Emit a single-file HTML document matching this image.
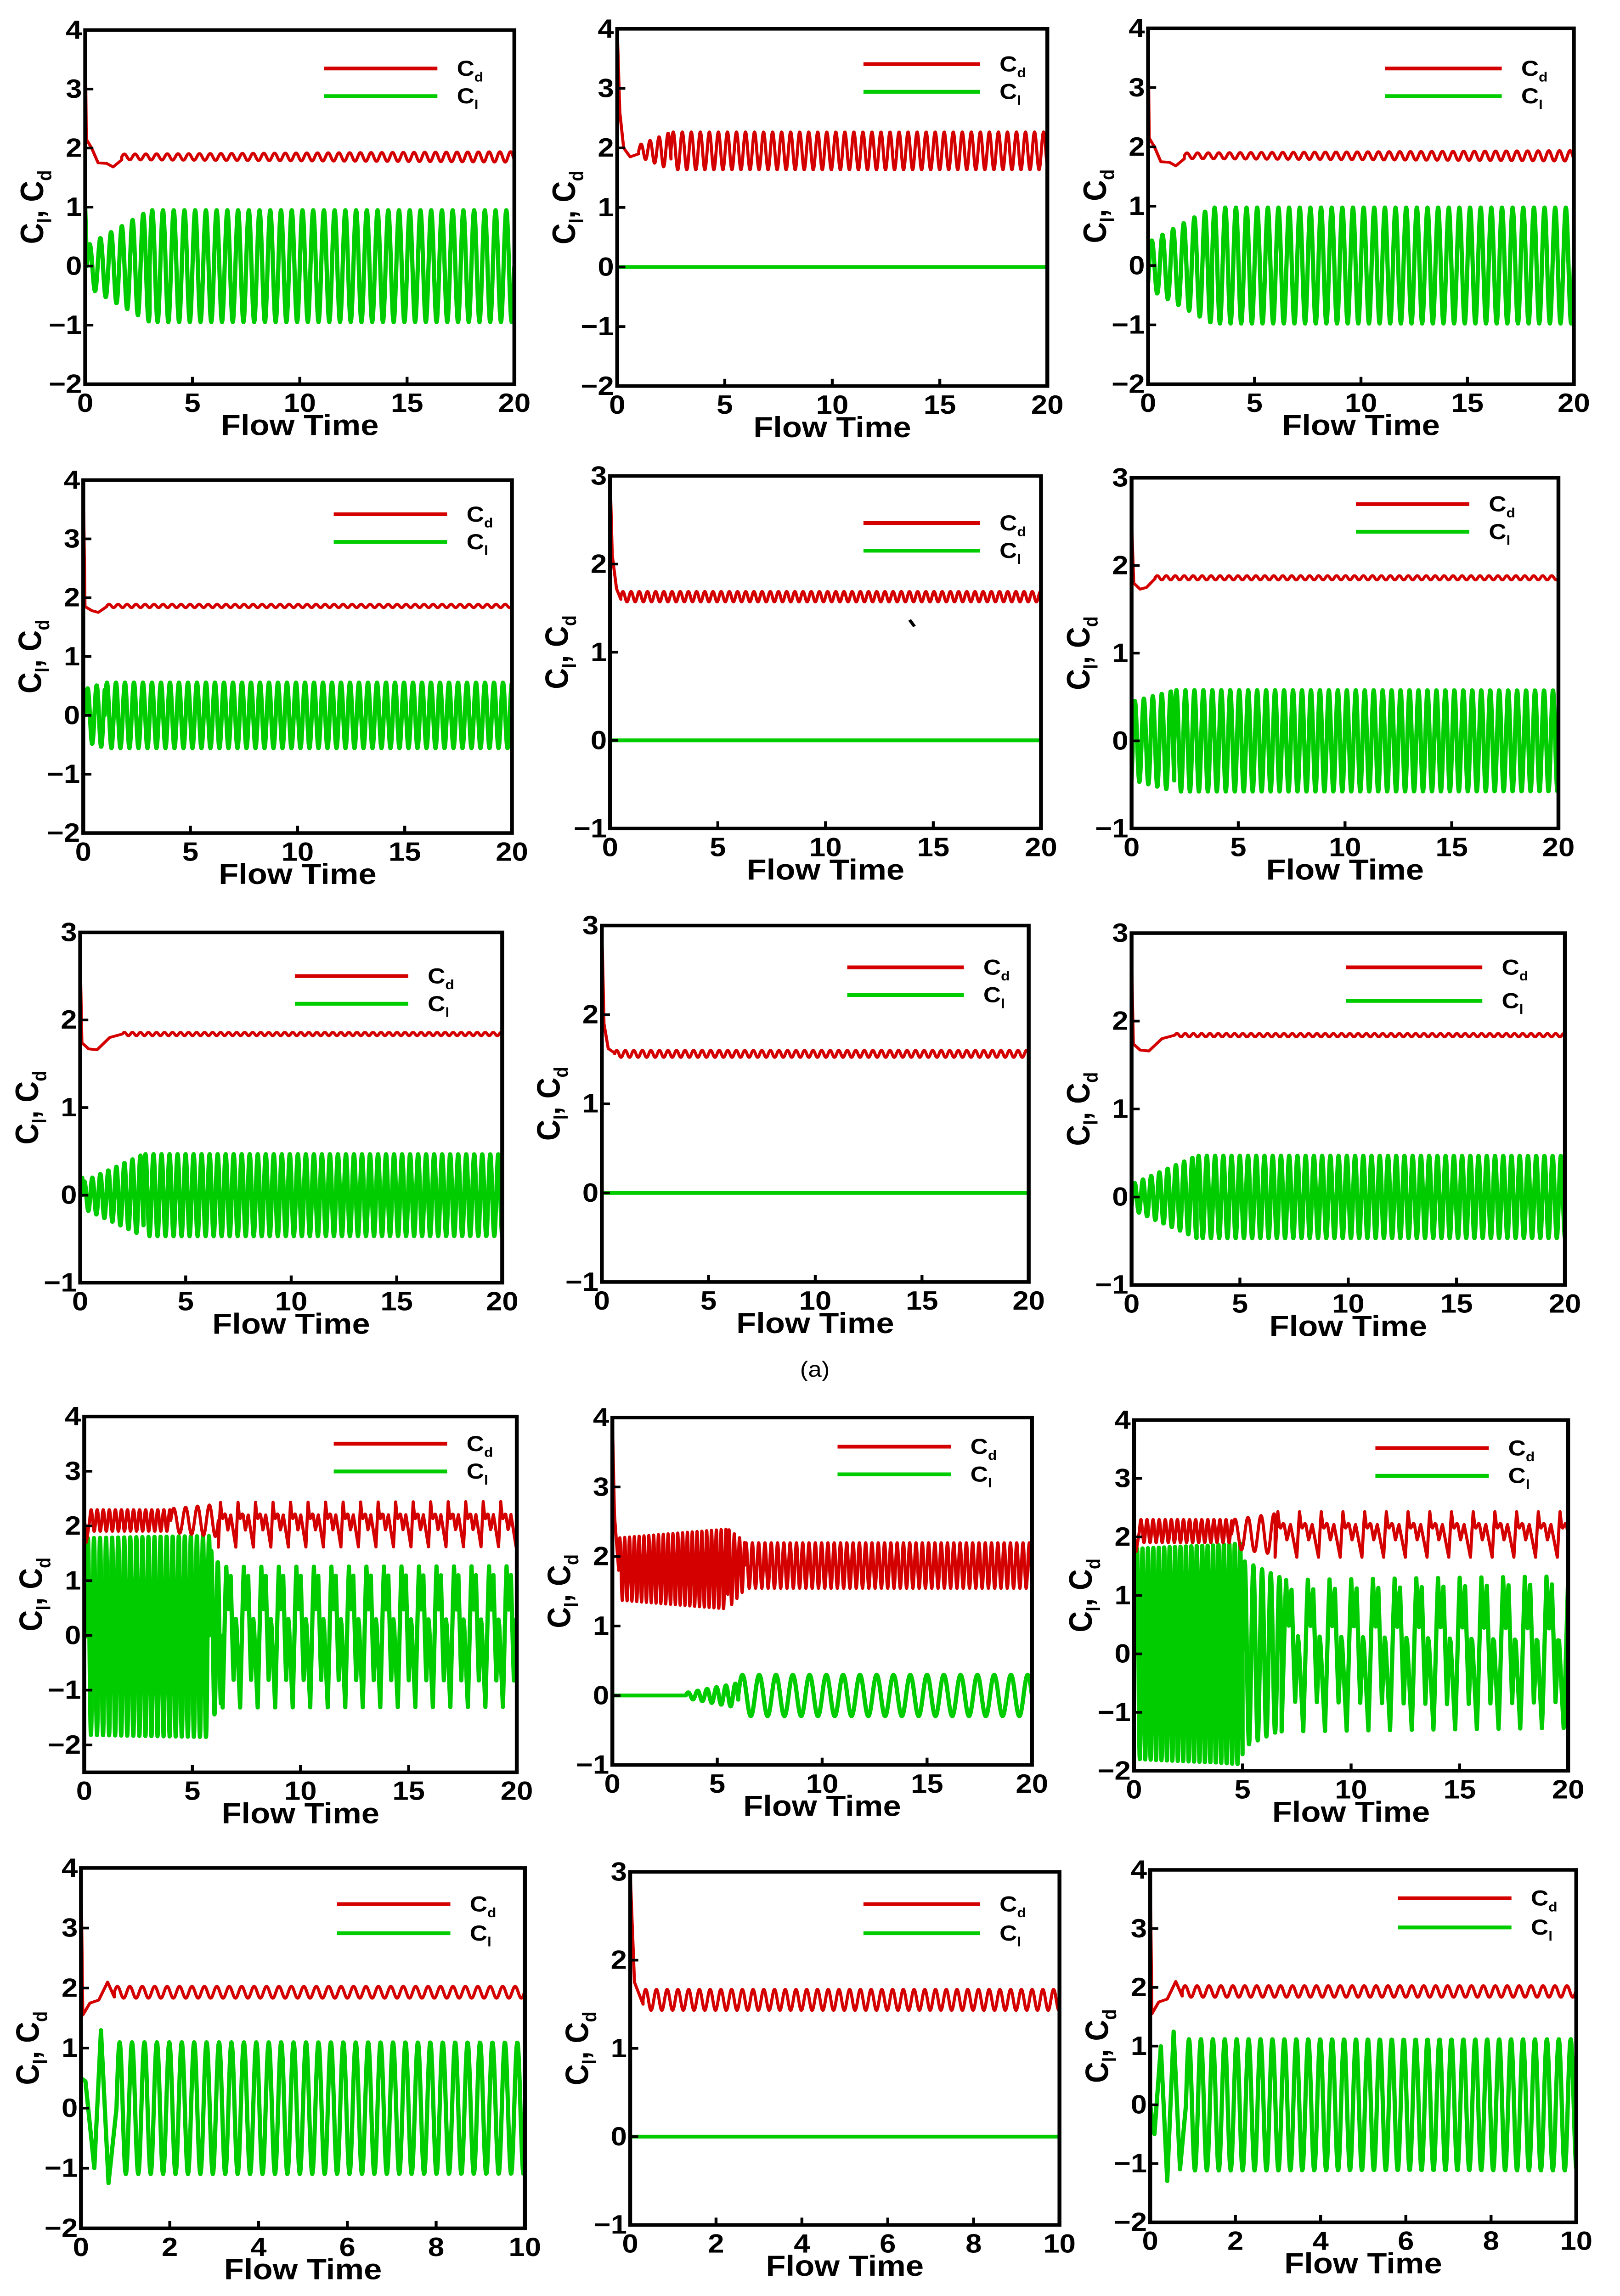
<!DOCTYPE html>
<html><head><meta charset="utf-8">
<meta name="viewport" content="width=3527, initial-scale=1">
<style>
html,body{margin:0;padding:0;background:#fff;overflow:hidden;width:100vw;height:100vh;}
svg{display:block;position:fixed;left:0;top:0;width:100vw;height:100vh;}
text{font-family:"Liberation Sans",Arial,sans-serif;}
</style></head>
<body>
<svg id="fig" viewBox="0 0 1000 1576" preserveAspectRatio="none" xmlns="http://www.w3.org/2000/svg">
<rect x="0" y="0" width="1000" height="1576" fill="#fff"/>
<text x="503" y="945" font-size="15" text-anchor="middle" font-family="Liberation Serif, serif">(a)</text>
<path d="M561.5,425.5 L564.5,430" stroke="#000" stroke-width="2" fill="none"/>
</svg>
<script>
// ---- axis ranges (data) ----
const xMaxVals = [20,20,20, 20,20,20, 20,20,20, 20,20,20, 10,10,10];
const yMinVals = [-2,-2,-2, -2,-1,-1, -1,-1,-1, -2.5,-1,-2, -2,-1,-2];
const yMaxVals = [4,4,4, 4,3,3, 3,3,3, 4,4,4, 4,3,4];

// ---- layout (pixel frame positions, not data) ----
const frameL = [52.6,381,708.7, 51.4,376.6,698.5, 49.5,371.5,698.5, 52,378,700, 50,389,710];
const frameR = [317.5,646.5,971.5, 316,642.6,962, 310,635,966, 319,637,968, 324,654,973];
const frameT = [20.6,19.8,19.4, 329.5,326.7,328, 640,635.3,640.5, 972.3,973,974.7, 1282.2,1284.9,1283.5];
const frameB = [263.7,265,263.7, 571.8,568.7,568.7, 880.5,880,882, 1216.5,1211.5,1215.5, 1529.5,1527.2,1525.4];
const legX1 = [200,533,855, 206,533,837, 182,523,831, 206,517,849, 208,533,863];
const legX2 = [270,605,927, 276,605,907, 252,595,915, 276,587,919, 278,605,933];
const legYd = [47,44,47, 353,359,346, 670,664,664, 991,993,994, 1307,1307,1303];
const legYl = [66,63,66, 372,378,365, 689,683,687, 1010,1012,1013, 1327,1327,1323];

// ---- series data: lead-in transient points [t, value] ----
const cdLead = [
 [[0,4],[0.05,2.15],[0.3,2.0],[0.6,1.75],[1.0,1.74],[1.3,1.68],[1.7,1.8]],
 [[0,4],[0.12,2.6],[0.3,2.0],[0.6,1.85],[1.0,1.9]],
 [[0,4],[0.05,2.15],[0.3,2.0],[0.6,1.75],[1.0,1.74],[1.3,1.68],[1.7,1.8]],
 [[0,4],[0.08,1.85],[0.4,1.78],[0.7,1.75],[1.1,1.85]],
 [[0,3],[0.1,2.1],[0.3,1.72],[0.5,1.6]],
 [[0,2.5],[0.1,1.8],[0.4,1.73],[0.7,1.75],[1.1,1.85]],
 [[0,2.7],[0.08,1.74],[0.4,1.67],[0.8,1.66],[1.4,1.8],[2.0,1.84]],
 [[0,3],[0.1,1.9],[0.3,1.62],[0.6,1.57]],
 [[0,2.7],[0.08,1.74],[0.4,1.67],[0.8,1.66],[1.4,1.8],[2.0,1.84]],
 [[0,2.2],[0.1,1.7],[0.25,2.1]],
 [[0,4],[0.1,2.6],[0.3,1.8]],
 [[0,2.1],[0.1,1.75],[0.25,2.1]],
 [[0,4],[0.04,1.55],[0.2,1.75],[0.4,1.8],[0.6,2.1],[0.75,1.85]],
 [[0,3],[0.1,1.75],[0.3,1.5]],
 [[0,4],[0.04,1.55],[0.2,1.75],[0.4,1.8],[0.6,2.1],[0.75,1.85]]
];
const clLead = [
 [[0,1.0],[0.08,0]],
 [[0,0]],
 [[0,-0.3],[0.05,0]],
 [[0,0.45],[0.1,0.3]],
 [[0,0]],
 [[0,-0.45],[0.05,-0.1]],
 [[0,0.2],[0.1,0.2]],
 [[0,0]],
 [[0,-0.1],[0.05,0]],
 [[0,1.3],[0.1,0.5]],
 [[0,0]],
 [[0,1.1],[0.08,0.3]],
 [[0,0.5],[0.1,0.45],[0.3,-1.0],[0.45,1.3],[0.62,-1.25],[0.8,0]],
 [[0,0]],
 [[0,0.0],[0.1,-0.5],[0.25,1.0],[0.4,-1.3],[0.55,1.25],[0.7,-1.1],[0.84,0]]
];
// ---- oscillation segments: [tStart, tEnd, period, meanStart, meanEnd, ampStart, ampEnd, shape] ----
const cdSegs = [
 [[1.7,20,0.5,1.85,1.85,0.05,0.09,'sin']],
 [[1.0,2.5,0.42,1.95,1.95,0.1,0.32,'sin'],[2.5,20,0.42,1.95,1.95,0.32,0.32,'sin']],
 [[1.7,20,0.5,1.85,1.85,0.05,0.09,'sin']],
 [[1.1,20,0.42,1.86,1.86,0.03,0.03,'sin']],
 [[0.5,20,0.38,1.63,1.63,0.06,0.06,'sin']],
 [[1.1,20,0.42,1.86,1.86,0.025,0.025,'sin']],
 [[2.0,20,0.38,1.84,1.84,0.02,0.02,'sin']],
 [[0.6,20,0.4,1.56,1.56,0.04,0.04,'sin']],
 [[2.0,20,0.38,1.84,1.84,0.02,0.02,'sin']],
 [[0.25,4.0,0.28,2.1,2.1,0.2,0.2,'sin'],[4.0,6.2,0.55,2.1,2.1,0.22,0.3,'sin'],[6.2,20,0.81,2.03,2.03,0.42,0.42,'spike']],
 [[0.3,5.5,0.23,1.82,1.82,0.45,0.58,'sin'],[5.5,6.3,0.25,1.82,1.87,0.58,0.35,'sin'],[6.3,20,0.3,1.87,1.87,0.33,0.33,'sin']],
 [[0.25,4.5,0.28,2.1,2.1,0.2,0.2,'sin'],[4.5,6.5,0.6,2.05,2.05,0.25,0.35,'sin'],[6.5,20,1.0,2.05,2.05,0.4,0.4,'spike']],
 [[0.75,10,0.28,1.93,1.93,0.1,0.1,'sin']],
 [[0.3,10,0.25,1.55,1.55,0.12,0.12,'sin']],
 [[0.75,10,0.28,1.93,1.93,0.1,0.1,'sin']]
];
const clSegs = [
 [[0.08,3.0,0.5,0,0,0.35,0.95,'sin'],[3.0,20,0.5,0,0,0.95,0.95,'sin']],
 [[0,20,1,0,0,0,0,'flat']],
 [[0.05,3.0,0.5,0,0,0.4,0.98,'sin'],[3.0,20,0.5,0,0,0.98,0.98,'sin']],
 [[0.1,1.0,0.42,0,0,0.45,0.56,'sin'],[1.0,20,0.42,0,0,0.56,0.56,'sin']],
 [[0,20,1,0,0,0,0,'flat']],
 [[0.05,2.0,0.42,0,0,0.45,0.58,'sin'],[2.0,20,0.42,0,0,0.58,0.58,'sin']],
 [[0.1,3.0,0.38,0,0,0.15,0.47,'sin'],[3.0,20,0.38,0,0,0.47,0.47,'sin']],
 [[0,20,1,0,0,0,0,'flat']],
 [[0.05,3.0,0.38,0,0,0.15,0.47,'sin'],[3.0,20,0.38,0,0,0.47,0.47,'sin']],
 [[0.1,5.8,0.28,-0.02,-0.02,1.8,1.85,'sin'],[5.8,6.4,0.3,0,0,1.6,1.2,'sin'],[6.4,20,0.81,0,0,1.32,1.32,'dbl']],
 [[0,3.5,1,0,0,0,0,'flat'],[3.5,6.0,0.45,0,0,0.04,0.18,'sin'],[6.0,20,0.8,0,0,0.3,0.3,'sin']],
 [[0.08,5.0,0.25,0,0,1.8,1.9,'sin'],[5.0,6.8,0.4,0,0,1.6,1.3,'sin'],[6.8,20,1.0,0,0,1.33,1.33,'dbl']],
 [[0.8,10,0.28,0,0,1.1,1.1,'sin']],
 [[0,10,1,0,0,0,0,'flat']],
 [[0.84,10,0.28,0,0,1.12,1.12,'sin']]
];
// shape keyframes for irregular cycles (normalized)
const dblShape = [[0,-1],[0.2,1],[0.32,0.3],[0.45,0.9],[0.62,-0.65],[0.76,0.3],[1,-1]];
const spikeShape = [[0,-1],[0.12,1],[0.22,0.2],[0.4,0.5],[0.55,-0.3],[0.7,0.45],[1,-1]];

const NS = 'http://www.w3.org/2000/svg';
const svg = document.getElementById('fig');
function mk(tag, attrs, parent){
  const e = document.createElementNS(NS, tag);
  for (const k in attrs) e.setAttribute(k, attrs[k]);
  (parent||svg).appendChild(e);
  return e;
}
function shapeVal(kind, p){
  if (kind==='sin') return Math.sin(2*Math.PI*p);
  if (kind==='flat') return 0;
  const arr = kind==='dbl' ? dblShape : spikeShape;
  for (let i=1;i<arr.length;i++){
    if (p<=arr[i][0]){
      const a=arr[i-1], b=arr[i];
      return a[1]+(b[1]-a[1])*(p-a[0])/(b[0]-a[0]);
    }
  }
  return arr[arr.length-1][1];
}
function buildPoints(lead, segs){
  const pts = lead.map(q=>[q[0],q[1]]);
  segs.forEach(s=>{
    const [t0,t1,per,m0,m1,a0,a1,kind]=s;
    const n = kind==='flat' ? 2 : Math.max(2, Math.ceil((t1-t0)/per*24));
    for (let i=0;i<=n;i++){
      const t = t0+(t1-t0)*i/n;
      const f = (t-t0)/(t1-t0);
      const m = m0+(m1-m0)*f, a = a0+(a1-a0)*f;
      const p = ((t-t0)/per)%1;
      pts.push([t, m + a*shapeVal(kind,p)]);
    }
  });
  return pts;
}

for (let i=0;i<15;i++){
  const L=frameL[i], R=frameR[i], T=frameT[i], B=frameB[i];
  const xMax=xMaxVals[i], yMin=yMinVals[i], yMax=yMaxVals[i];
  const sx = v => L + (R-L)*v/xMax;
  const sy = v => B - (B-T)*(v-yMin)/(yMax-yMin);
  const g = mk('g', {});
  
  
  const clip = mk('clipPath', {id:'clip'+i}, g);
  mk('rect', {x:L, y:T, width:R-L, height:B-T}, clip);

  const cl = buildPoints(clLead[i], clSegs[i]);
  const cd = buildPoints(cdLead[i], cdSegs[i]);
  const clPath = mk('path', {d: 'M'+cl.map(q=>sx(q[0]).toFixed(2)+','+sy(q[1]).toFixed(2)).join('L'), fill:'none', stroke:'#00cc00', 'stroke-width':2.6, 'stroke-linejoin':'round', 'clip-path':'url(#clip'+i+')'}, g);
  
  
  const cdPath = mk('path', {d: 'M'+cd.map(q=>sx(q[0]).toFixed(2)+','+sy(q[1]).toFixed(2)).join('L'), fill:'none', stroke:'#d40000', 'stroke-width':1.9, 'stroke-linejoin':'round', 'clip-path':'url(#clip'+i+')'}, g);
  
  

  const fr = mk('rect', {x:L, y:T, width:R-L, height:B-T, fill:'none', stroke:'#000', 'stroke-width':2.4}, g);
  
  

  for (let v=Math.ceil(yMin); v<=yMax; v++){
    const y = sy(v);
    mk('line', {x1:L, x2:L+5, y1:y, y2:y, stroke:'#000', 'stroke-width':1.8}, g);
    const t = mk('text', {x:L-2, y:y+6, 'font-size':18, 'font-weight':'bold', 'text-anchor':'end'}, g);
    t.textContent = v<0 ? '\u2212'+(-v) : String(v);
    
    
  }
  const step = xMax===20 ? 5 : 2;
  for (let v=0; v<=xMax; v+=step){
    const x = sx(v);
    mk('line', {x1:x, x2:x, y1:B, y2:B-5, stroke:'#000', 'stroke-width':1.8}, g);
    const t = mk('text', {x:x, y:B+19, 'font-size':18, 'font-weight':'bold', 'text-anchor':'middle'}, g);
    t.textContent = String(v);
    
    
  }
  const xt = mk('text', {x:(L+R)/2, y:B+35, 'font-size':20, 'font-weight':'bold', 'text-anchor':'middle'}, g);
  xt.textContent = 'Flow Time';
  
  
  const cy = (T+B)/2, cx = L-26;
  const yt = mk('text', {x:0, y:0, 'font-size':20, 'font-weight':'bold', 'text-anchor':'middle', transform:'translate('+cx+','+cy+') rotate(-90)'}, g);
  
  
  yt.innerHTML = 'C<tspan font-size="12" dy="5">l</tspan><tspan dy="-5">, C</tspan><tspan font-size="12" dy="5">d</tspan>';

  const lg = mk('g', {}, g);
  
  
  const l1 = mk('line', {x1:legX1[i], x2:legX2[i], y1:legYd[i], y2:legYd[i], stroke:'#d40000', 'stroke-width':2.6}, lg);
  
  
  const l2 = mk('line', {x1:legX1[i], x2:legX2[i], y1:legYl[i], y2:legYl[i], stroke:'#00cc00', 'stroke-width':2.6}, lg);
  
  
  const t1 = mk('text', {x:legX2[i]+12, y:legYd[i]+5, 'font-size':15, 'font-weight':'bold'}, lg);
  t1.innerHTML = 'C<tspan font-size="9" dy="4">d</tspan>';
  
  
  const t2 = mk('text', {x:legX2[i]+12, y:legYl[i]+5, 'font-size':15, 'font-weight':'bold'}, lg);
  t2.innerHTML = 'C<tspan font-size="9" dy="4">l</tspan>';
  
  
}
</script>
</body></html>
